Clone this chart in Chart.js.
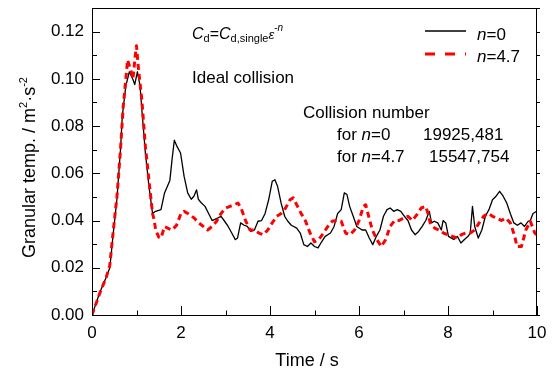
<!DOCTYPE html>
<html>
<head>
<meta charset="utf-8">
<script src="https://cdn.jsdelivr.net/npm/chart.js@4.4.1/dist/chart.umd.min.js"></script>
<style>
  html, body { margin: 0; padding: 0; background: #fff; }
  #tempChart { display: block; }
</style>
</head>
<body>
<canvas id="tempChart" width="554" height="369"></canvas>
<script>
// granular temperature vs time, two drag exponents
const timeN0 = [0, 0.17, 0.32, 0.4, 0.48, 0.56, 0.64, 0.68, 0.76, 0.84,
    0.92, 0.96, 1.02, 1.08, 1.12, 1.2, 1.28, 1.36, 1.43, 1.55,
    1.63, 1.75, 1.8, 1.85, 1.91, 1.99, 2.07, 2.15, 2.23, 2.29,
    2.35, 2.39, 2.46, 2.54, 2.62, 2.7, 2.82, 2.9, 2.98, 3.06,
    3.14, 3.22, 3.27, 3.34, 3.42, 3.49, 3.57, 3.65, 3.73, 3.81,
    3.89, 3.97, 4.05, 4.11, 4.17, 4.25, 4.33, 4.4, 4.48, 4.6,
    4.68, 4.76, 4.84, 4.92, 5.0, 5.08, 5.16, 5.24, 5.36, 5.44,
    5.52, 5.6, 5.67, 5.73, 5.79, 5.87, 5.95, 6.07, 6.15, 6.23,
    6.31, 6.39, 6.47, 6.55, 6.63, 6.7, 6.78, 6.86, 6.94, 7.02,
    7.1, 7.18, 7.26, 7.34, 7.42, 7.5, 7.58, 7.63, 7.69, 7.77,
    7.85, 7.89, 7.95, 8.01, 8.13, 8.21, 8.29, 8.37, 8.45, 8.5,
    8.55, 8.6, 8.68, 8.76, 8.84, 8.92, 9.0, 9.08, 9.16, 9.24,
    9.32, 9.4, 9.48, 9.56, 9.64, 9.72, 9.8, 9.85, 9.91, 10];
const tempN0 = [0, 0.0093, 0.016, 0.02, 0.035, 0.049, 0.07, 0.084, 0.097, 0.103,
    0.0997, 0.0976, 0.103, 0.097, 0.087, 0.0686, 0.0545, 0.043, 0.0439, 0.0446,
    0.0517, 0.057, 0.066, 0.074, 0.0714, 0.0686, 0.0587, 0.0517, 0.049, 0.0503,
    0.053, 0.049, 0.0474, 0.046, 0.043, 0.040, 0.041, 0.0418, 0.0397, 0.0375,
    0.0347, 0.0319, 0.0326, 0.039, 0.038, 0.0375, 0.0354, 0.036, 0.0397, 0.040,
    0.043, 0.0488, 0.0566, 0.0573, 0.0545, 0.0474, 0.0418, 0.0397, 0.038, 0.0368,
    0.0347, 0.0298, 0.029, 0.0305, 0.029, 0.0284, 0.031, 0.0333, 0.0347, 0.0375,
    0.043, 0.0446, 0.0517, 0.051, 0.046, 0.0418, 0.0375, 0.036, 0.036, 0.0326,
    0.0298, 0.0333, 0.036, 0.0418, 0.0446, 0.0453, 0.0439, 0.0446, 0.0439, 0.0418,
    0.040, 0.036, 0.034, 0.0354, 0.0375, 0.040, 0.0439, 0.039, 0.0397, 0.039,
    0.036, 0.040, 0.039, 0.0333, 0.032, 0.0333, 0.0305, 0.032, 0.0333, 0.0347,
    0.046, 0.0375, 0.0326, 0.036, 0.0418, 0.0446, 0.0488, 0.0503, 0.0524, 0.0503,
    0.0474, 0.043, 0.039, 0.038, 0.039, 0.0375, 0.0397, 0.040, 0.043, 0.044];

const timeN47 = [0, 0.17, 0.32, 0.4, 0.48, 0.56, 0.64, 0.7, 0.76, 0.8,
    0.88, 0.92, 0.97, 1.0, 1.04, 1.12, 1.2, 1.28, 1.36, 1.4,
    1.43, 1.5, 1.55, 1.63, 1.7, 1.8, 1.9, 2.0, 2.07, 2.2,
    2.3, 2.4, 2.5, 2.6, 2.7, 2.8, 2.9, 3.0, 3.1, 3.2,
    3.28, 3.35, 3.45, 3.55, 3.65, 3.75, 3.85, 3.95, 4.05, 4.15,
    4.25, 4.35, 4.45, 4.52, 4.6, 4.7, 4.8, 4.9, 5.0, 5.1,
    5.2, 5.3, 5.4, 5.5, 5.6, 5.7, 5.8, 5.9, 6.0, 6.1,
    6.15, 6.2, 6.3, 6.4, 6.5, 6.6, 6.7, 6.8, 6.9, 7.0,
    7.1, 7.2, 7.3, 7.4, 7.5, 7.55, 7.6, 7.7, 7.8, 7.9,
    8.0, 8.1, 8.2, 8.3, 8.4, 8.5, 8.6, 8.7, 8.8, 8.9,
    9.0, 9.1, 9.2, 9.3, 9.4, 9.5, 9.55, 9.65, 9.75, 9.85,
    9.95, 10];
const tempN47 = [0, 0.009, 0.016, 0.021, 0.036, 0.05, 0.07, 0.088, 0.1, 0.108,
    0.103, 0.1, 0.1095, 0.114, 0.105, 0.091, 0.0714, 0.057, 0.043, 0.040,
    0.036, 0.033, 0.0326, 0.0375, 0.0368, 0.036, 0.038, 0.043, 0.0439, 0.0425,
    0.041, 0.039, 0.0375, 0.036, 0.0375, 0.0397, 0.043, 0.0453, 0.046, 0.0467,
    0.0474, 0.0453, 0.040, 0.036, 0.036, 0.0347, 0.034, 0.036, 0.039, 0.0418,
    0.043, 0.0453, 0.0488, 0.0496, 0.0467, 0.043, 0.0397, 0.0347, 0.031, 0.032,
    0.0347, 0.0375, 0.0397, 0.040, 0.0397, 0.0347, 0.034, 0.036, 0.040, 0.046,
    0.0467, 0.043, 0.036, 0.032, 0.029, 0.032, 0.0375, 0.040, 0.040, 0.041,
    0.0418, 0.040, 0.0425, 0.0453, 0.046, 0.043, 0.039, 0.0368, 0.036, 0.0347,
    0.034, 0.0333, 0.0326, 0.034, 0.0347, 0.0347, 0.036, 0.039, 0.0418, 0.043,
    0.0418, 0.041, 0.040, 0.041, 0.039, 0.0333, 0.029, 0.029, 0.036, 0.0397,
    0.0347, 0.034];

const xTicks = [0, 2, 4, 6, 8, 10];
const yTicks = [0, 0.02, 0.04, 0.06, 0.08, 0.10, 0.12];

const FONT = '"Liberation Sans", Arial, sans-serif';

function toPoints(xs, ys) {
    return xs.map((x, i) => ({ x: x, y: ys[i] }));
}

// draw a line of text made of runs with their own size/italic/offset
function drawRuns(ctx, x, y, runs, align) {
    const font = r => (r.italic ? 'italic ' : '') + r.size + 'px ' + FONT;
    let total = 0;
    runs.forEach(r => { ctx.font = font(r); total += ctx.measureText(r.text).width; });
    let cx = align === 'center' ? x - total / 2 : x;
    ctx.textBaseline = 'alphabetic';
    ctx.textAlign = 'left';
    runs.forEach(r => {
        ctx.font = font(r);
        ctx.fillText(r.text, cx, y + (r.dy || 0));
        cx += ctx.measureText(r.text).width;
    });
}

const frameAndText = {
    id: 'frameAndText',
    afterDraw(chart) {
        const ctx = chart.ctx;
        const a = chart.chartArea;
        const xs = chart.scales.x, ys = chart.scales.y;
        ctx.save();
        ctx.strokeStyle = '#000';
        ctx.lineWidth = 1;

        // top and right edges of the box
        ctx.beginPath();
        ctx.moveTo(a.left, a.top + 0.5);
        ctx.lineTo(a.right, a.top + 0.5);
        ctx.moveTo(a.right - 0.5, a.top);
        ctx.lineTo(a.right - 0.5, a.bottom);
        ctx.stroke();

        // inward ticks, bottom and left; small outward ticks on the right
        ctx.beginPath();
        for (let t = 0; t <= 10; t++) {
            const px = Math.round(xs.getPixelForValue(t)) + 0.5;
            const len = t % 2 === 0 ? 9 : 4.5;
            ctx.moveTo(px, a.bottom);
            ctx.lineTo(px, a.bottom - len);
        }
        for (let k = 0; k <= 13; k++) {
            const py = Math.round(ys.getPixelForValue(k / 100)) + 0.5;
            const len = k % 2 === 0 ? 8 : 5;
            ctx.moveTo(a.left, py);
            ctx.lineTo(a.left + len, py);
            ctx.moveTo(a.right, py);
            ctx.lineTo(a.right + 3, py);
        }
        ctx.stroke();

        ctx.fillStyle = '#000';

        // y axis title, rotated
        ctx.save();
        ctx.translate(35, 167.5);
        ctx.rotate(-Math.PI / 2);
        drawRuns(ctx, 0, 0, [
            { text: 'Granular temp. / m', size: 18 },
            { text: '2', size: 11, dy: -8 },
            { text: '\u00b7s', size: 18 },
            { text: '-2', size: 11, dy: -8 }
        ], 'center');
        ctx.restore();

        // x axis title
        drawRuns(ctx, 307, 366, [{ text: 'Time / s', size: 18 }], 'center');

        // drag law and case label
        drawRuns(ctx, 192, 39, [
            { text: 'C', size: 16, italic: true },
            { text: 'd', size: 11, dy: 3 },
            { text: '=', size: 16 },
            { text: 'C', size: 16, italic: true },
            { text: 'd,single', size: 11, dy: 3 },
            { text: '\u03b5', size: 13, italic: true },
            { text: '-', size: 10, dy: -8 },
            { text: 'n', size: 10, italic: true, dy: -8 }
        ]);
        drawRuns(ctx, 192, 83, [{ text: 'Ideal collision', size: 17 }]);

        // collision counts
        drawRuns(ctx, 303, 118, [{ text: 'Collision number', size: 17 }]);
        drawRuns(ctx, 337, 140, [
            { text: 'for ', size: 17 }, { text: 'n', size: 17, italic: true }, { text: '=0', size: 17 }
        ]);
        drawRuns(ctx, 423, 140, [{ text: '19925,481', size: 17 }]);
        drawRuns(ctx, 337, 162, [
            { text: 'for ', size: 17 }, { text: 'n', size: 17, italic: true }, { text: '=4.7', size: 17 }
        ]);
        drawRuns(ctx, 429, 162, [{ text: '15547,754', size: 17 }]);

        // legend
        const ds = chart.data.datasets;
        const rows = [[ds[0], 31, 40, '=0'], [ds[1], 54, 62, '=4.7']];
        rows.forEach(([d, ly, ty, label], i) => {
            ctx.save();
            ctx.strokeStyle = d.borderColor;
            ctx.lineWidth = d.borderWidth;
            ctx.setLineDash(i === 1 ? [10, 10] : []);
            ctx.beginPath();
            ctx.moveTo(425, ly);
            ctx.lineTo(466, ly);
            ctx.stroke();
            ctx.restore();
            drawRuns(ctx, 477, ty, [
                { text: 'n', size: 17, italic: true }, { text: label, size: 17 }
            ]);
        });

        ctx.restore();
    }
};

new Chart(document.getElementById('tempChart'), {
    type: 'line',
    data: {
        datasets: [{
            label: 'n=0',
            data: toPoints(timeN0, tempN0),
            borderColor: '#000000',
            borderWidth: 1.3,
            borderJoinStyle: 'round',
            pointRadius: 0,
            tension: 0,
            order: 1
        }, {
            label: 'n=4.7',
            data: toPoints(timeN47, tempN47),
            borderColor: '#ff0000',
            borderWidth: 3,
            borderDash: [6, 4],
            borderJoinStyle: 'round',
            pointRadius: 0,
            tension: 0,
            order: 0
        }]
    },
    options: {
        responsive: false,
        animation: false,
        layout: { padding: { top: 8, right: 17, left: 0, bottom: 0 } },
        plugins: {
            legend: { display: false },
            tooltip: { enabled: false }
        },
        scales: {
            x: {
                type: 'linear',
                min: 0,
                max: 10,
                afterFit: s => {
                    s.height = 54;
                    s.paddingLeft = 0;
                    s.paddingRight = 0;
                },
                afterBuildTicks: s => { s.ticks = xTicks.map(v => ({ value: v })); },
                ticks: {
                    color: '#000',
                    padding: 8,
                    maxRotation: 0,
                    font: { family: FONT, size: 17 },
                    callback: v => String(v)
                },
                grid: { display: false, drawTicks: false },
                border: { display: true, color: '#000', width: 1 }
            },
            y: {
                min: 0,
                max: 0.13,
                afterFit: s => {
                    s.width = 92;
                    s.paddingTop = 0;
                    s.paddingBottom = 0;
                },
                afterBuildTicks: s => { s.ticks = yTicks.map(v => ({ value: v })); },
                ticks: {
                    color: '#000',
                    padding: 8,
                    font: { family: FONT, size: 17 },
                    callback: v => v.toFixed(2)
                },
                grid: { display: false, drawTicks: false },
                border: { display: true, color: '#000', width: 1 }
            }
        }
    },
    plugins: [frameAndText]
});
</script>
</body>
</html>
